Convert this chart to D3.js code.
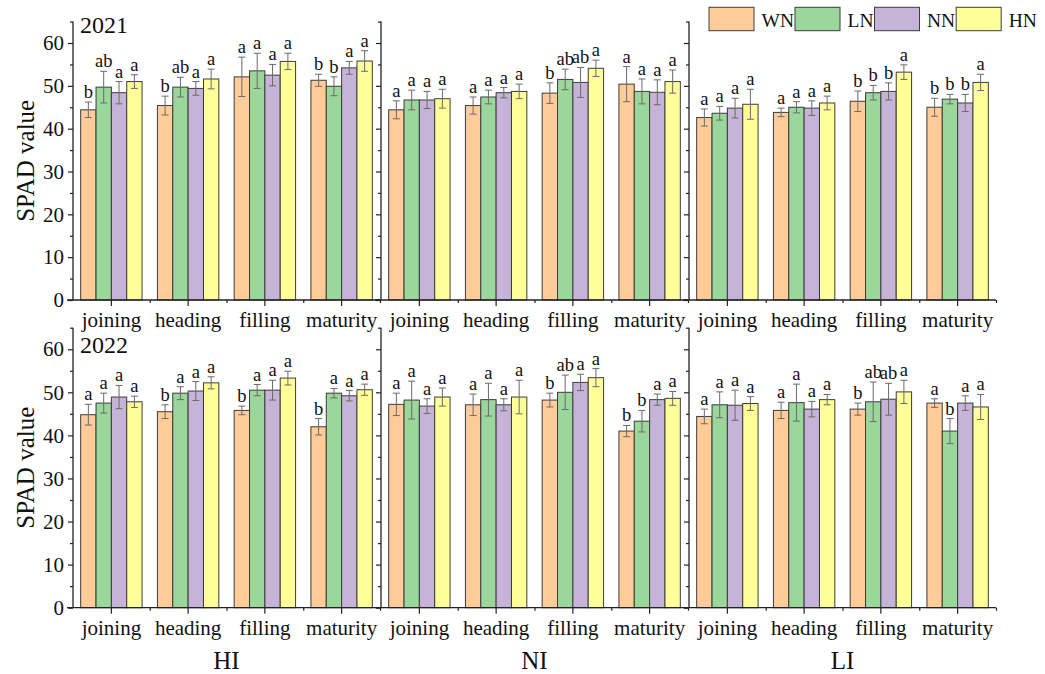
<!DOCTYPE html>
<html>
<head>
<meta charset="utf-8">
<script src="https://cdn.jsdelivr.net/npm/d3@7"></script>
<style>
  body { margin: 0; background: #fff; }
  svg { display: block; }
  text { font-family: "Liberation Serif", "Times New Roman", serif; fill: #111; }
</style>
</head>
<body>
<svg id="chart" width="1045" height="674"></svg>
<script>
// ---- data -------------------------------------------------------------
const stages = ["joining", "heading", "filling", "maturity"];
const treatments = ["WN", "LN", "NN", "HN"];
const sites = ["HI", "NI", "LI"];
const years = ["2021", "2022"];
const yTicks = [0, 10, 20, 30, 40, 50, 60];
const yMinorTicks = [5, 15, 25, 35, 45, 55, 65];

// SPAD means, rows = stages, columns = WN, LN, NN, HN
const HI_2021_mean = [[44.4, 49.7, 48.4, 51.0], [45.4, 49.7, 49.4, 51.6], [52.1, 53.5, 52.5, 55.7], [51.3, 49.9, 54.2, 55.8]];
const HI_2021_sd   = [[1.8, 3.7, 2.6, 1.6], [2.2, 2.3, 1.6, 2.3], [4.6, 4.1, 2.5, 1.9], [1.4, 2.2, 1.5, 2.4]];
const HI_2021_sig  = [["b", "ab", "a", "a"], ["b", "ab", "a", "a"], ["a", "a", "a", "a"], ["b", "b", "a", "a"]];

const NI_2021_mean = [[44.4, 46.7, 46.7, 47.0], [45.4, 47.4, 48.4, 48.7], [48.3, 51.5, 50.8, 54.1], [50.4, 48.7, 48.5, 51.0]];
const NI_2021_sd   = [[2.1, 2.3, 2.0, 2.2], [2.0, 1.6, 1.2, 1.7], [2.4, 2.4, 3.5, 1.9], [4.1, 2.9, 2.9, 2.7]];
const NI_2021_sig  = [["a", "a", "a", "a"], ["a", "a", "a", "a"], ["b", "ab", "ab", "a"], ["a", "a", "a", "a"]];

const LI_2021_mean = [[42.6, 43.6, 44.8, 45.7], [43.8, 45.0, 44.8, 46.0], [46.4, 48.4, 48.7, 53.2], [45.0, 46.9, 46.0, 50.8]];
const LI_2021_sd   = [[2.0, 1.6, 2.3, 3.5], [1.0, 1.3, 1.7, 1.6], [2.4, 1.7, 2.0, 1.7], [2.1, 1.1, 2.0, 1.9]];
const LI_2021_sig  = [["a", "a", "a", "a"], ["a", "a", "a", "a"], ["b", "b", "b", "a"], ["b", "b", "b", "a"]];

const HI_2022_mean = [[44.8, 47.5, 48.9, 47.8], [45.5, 49.8, 50.3, 52.2], [45.8, 50.5, 50.5, 53.3], [42.0, 49.8, 49.2, 50.6]];
const HI_2022_sd   = [[2.4, 2.3, 2.7, 1.3], [1.6, 1.5, 2.2, 1.4], [1.0, 1.3, 2.3, 1.6], [1.9, 1.1, 1.2, 1.3]];
const HI_2022_sig  = [["a", "a", "a", "a"], ["b", "a", "a", "a"], ["b", "a", "a", "a"], ["b", "a", "a", "a"]];

const NI_2022_mean = [[47.2, 48.2, 46.8, 48.9], [47.1, 48.3, 47.1, 48.9], [48.2, 50.0, 52.3, 53.4], [41.0, 43.3, 48.3, 48.6]];
const NI_2022_sd   = [[2.6, 4.4, 1.7, 2.1], [2.5, 3.8, 1.4, 3.9], [1.6, 4.0, 1.9, 2.1], [1.3, 2.5, 1.3, 1.6]];
const NI_2022_sig  = [["a", "a", "a", "a"], ["a", "a", "a", "a"], ["b", "ab", "a", "a"], ["b", "b", "a", "a"]];

const LI_2022_mean = [[44.4, 47.1, 47.0, 47.4], [45.8, 47.6, 46.1, 48.3], [46.1, 47.8, 48.4, 50.1], [47.5, 41.0, 47.5, 46.6]];
const LI_2022_sd   = [[1.7, 3.0, 3.5, 1.6], [1.9, 4.3, 1.8, 1.2], [1.4, 4.6, 3.7, 2.7], [1.0, 2.9, 1.7, 2.9]];
const LI_2022_sig  = [["a", "a", "a", "a"], ["a", "a", "a", "a"], ["b", "ab", "ab", "a"], ["a", "b", "a", "a"]];

const colors = ["#FFCC99", "#9BD69B", "#C6B4D8", "#FFFF99"];

// panel lookup built from the arrays above
const panelData = {
  "2021": { HI: [HI_2021_mean, HI_2021_sd, HI_2021_sig], NI: [NI_2021_mean, NI_2021_sd, NI_2021_sig], LI: [LI_2021_mean, LI_2021_sd, LI_2021_sig] },
  "2022": { HI: [HI_2022_mean, HI_2022_sd, HI_2022_sig], NI: [NI_2022_mean, NI_2022_sd, NI_2022_sig], LI: [LI_2022_mean, LI_2022_sd, LI_2022_sig] }
};

// ---- layout -----------------------------------------------------------
const svg = d3.select("#chart");
const panelLeft = [73, 381, 689];
const panelW = 307;
const rows = [
  { year: "2021", base: 300, top: 21.6 },
  { year: "2022", base: 607.7, top: 327.7 }
];
const axisColor = "#222";
const serif = '"Liberation Serif", "Times New Roman", serif';

const xGroup = d3.scaleBand().domain(stages).range([0, panelW]).paddingInner(0.2).paddingOuter(0.1);
const xInner = d3.scaleBand().domain(treatments).range([0, xGroup.bandwidth()]);
const xEdge = d3.scaleLinear().domain([0, stages.length]).range([0, panelW]);

rows.forEach((row, ri) => {
  const y = d3.scaleLinear().domain([0, 65]).range([row.base, row.top]);

  sites.forEach((site, si) => {
    const [means, sds, sigs] = panelData[row.year][site];
    const g = svg.append("g").attr("transform", `translate(${panelLeft[si]},0)`);

    // bars with error bars and significance letters
    stages.forEach((stage, k) => {
      const gg = g.append("g").attr("transform", `translate(${xGroup(stage)},0)`);
      treatments.forEach((tr, j) => {
        const v = means[k][j], e = sds[k][j];
        const bx = xInner(tr), bw = xInner.bandwidth();
        gg.append("rect")
          .attr("x", bx).attr("y", y(v))
          .attr("width", bw).attr("height", y(0) - y(v))
          .attr("fill", colors[j]).attr("stroke", "#3c3c3c").attr("stroke-width", 1);
        const cx = bx + bw / 2;
        const eb = gg.append("g").attr("stroke", "#6a6a6a").attr("stroke-width", 1);
        eb.append("line").attr("x1", cx).attr("x2", cx).attr("y1", y(v - e)).attr("y2", y(v + e));
        eb.append("line").attr("x1", cx - 3.5).attr("x2", cx + 3.5).attr("y1", y(v - e)).attr("y2", y(v - e));
        eb.append("line").attr("x1", cx - 3.5).attr("x2", cx + 3.5).attr("y1", y(v + e)).attr("y2", y(v + e));
        gg.append("text")
          .attr("x", cx).attr("y", y(v + e) - 4)
          .attr("text-anchor", "middle").attr("font-size", 18.5)
          .text(sigs[k][j]);
      });
    });

    // y axis: major + minor ticks
    const yAxis = d3.axisLeft(y).tickValues(yTicks).tickSize(5).tickSizeOuter(0).tickPadding(4)
      .tickFormat(si === 0 ? d3.format("d") : () => "");
    const ya = g.append("g").attr("font-family", serif).call(yAxis);
    ya.attr("font-family", serif);
    ya.select(".domain").remove();
    ya.selectAll("text").attr("font-size", 21).attr("fill", "#111").style("font-family", serif);
    const ym = g.append("g").call(d3.axisLeft(y).tickValues(yMinorTicks).tickSize(3).tickSizeOuter(0).tickFormat(() => ""));
    ym.select(".domain").remove();
    g.append("line").attr("x1", 0).attr("x2", 0).attr("y1", y(0)).attr("y2", y(65));

    // x axis: labelled ticks at stage centres, short ticks at stage edges
    const xa = g.append("g").attr("transform", `translate(0,${y(0)})`)
      .call(d3.axisBottom(xGroup).tickSize(6).tickSizeOuter(0).tickPadding(6));
    xa.attr("font-family", serif);
    xa.select(".domain").remove();
    xa.selectAll("text").attr("font-size", 21).attr("fill", "#111").style("font-family", serif);
    const xm = g.append("g").attr("transform", `translate(0,${y(0)})`)
      .call(d3.axisBottom(xEdge).tickValues(d3.range(1, stages.length + 1)).tickSize(3).tickSizeOuter(0).tickFormat(() => ""));
    xm.select(".domain").remove();
    g.selectAll(".tick line").attr("stroke", axisColor).attr("stroke-width", 1.2);
    g.append("line").attr("x1", -6).attr("x2", panelW).attr("y1", y(0)).attr("y2", y(0));
    g.selectAll(":scope > line").attr("stroke", axisColor).attr("stroke-width", 1.3);

    if (si === 0) {
      g.append("text").attr("x", 7).attr("y", ri === 0 ? 33 : 353)
        .attr("font-size", 24).text(row.year);
    }
    if (ri === 1) {
      g.append("text").attr("x", panelW / 2).attr("y", 669)
        .attr("text-anchor", "middle").attr("font-size", 25).text(site);
    }
  });

  // y axis title
  const cy = (row.base + row.top) / 2;
  svg.append("text")
    .attr("transform", `translate(33.5,${cy}) rotate(-90)`)
    .attr("text-anchor", "middle").attr("font-size", 25)
    .text("SPAD value");
});

// ---- legend -----------------------------------------------------------
const legend = svg.append("g").attr("transform", "translate(709,7.3)");
let lx = 0;
treatments.forEach((tr, j) => {
  legend.append("rect").attr("x", lx).attr("y", 0).attr("width", 45).attr("height", 23.4)
    .attr("fill", colors[j]).attr("stroke", "#3c3c3c").attr("stroke-width", 1);
  const t = legend.append("text").attr("x", lx + 52.5).attr("y", 19.6)
    .attr("font-size", 19.5).text(tr);
  lx += 52.5 + t.node().getComputedTextLength() + 1;
});
</script>
</body>
</html>
